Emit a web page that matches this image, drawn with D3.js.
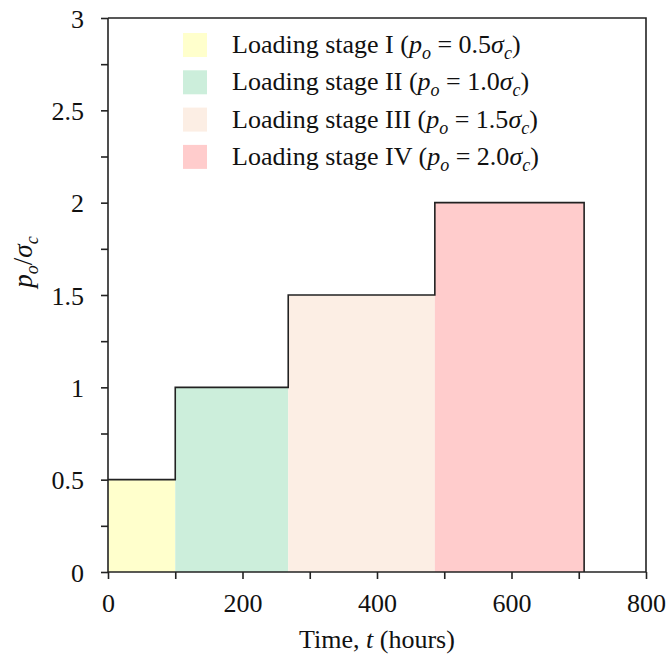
<!DOCTYPE html>
<html>
<head>
<meta charset="utf-8">
<script src="https://cdn.jsdelivr.net/npm/d3@7"></script>
<style>
  body { margin: 0; background: #fff; }
</style>
</head>
<body>
<svg id="chart" width="668" height="657"></svg>
<script>
// stage data
const stageNames = ['I', 'II', 'III', 'IV'];
const stageLevels = [0.5, 1.0, 1.5, 2.0];
const stageStarts = [0, 100, 268, 486];
const stageEnds = [100, 268, 486, 708];
const stageColors = ['#FFFFCC', '#CCEEDB', '#FCEEE4', '#FFCCCC'];
const xTicks = [0, 200, 400, 600, 800];
const yTicks = [0, 0.5, 1, 1.5, 2, 2.5, 3];

const FONT = '"Liberation Serif", "Times New Roman", serif';
const svg = d3.select('#chart');
const margin = { left: 108, right: 22, top: 18, bottom: 85 };
const width = 668, height = 657;

const x = d3.scaleLinear().domain([0, 800]).range([margin.left, width - margin.right]);
const y = d3.scaleLinear().domain([0, 3]).range([height - margin.bottom, margin.top]);

const stages = stageNames.map((n, i) => ({
  name: n, level: stageLevels[i], start: stageStarts[i], end: stageEnds[i], color: stageColors[i]
}));

// filled blocks
svg.append('g').selectAll('rect')
  .data(stages)
  .enter()
  .append('rect')
  .attr('x', d => x(d.start))
  .attr('y', d => y(d.level))
  .attr('width', d => x(d.end) - x(d.start))
  .attr('height', d => y(0) - y(d.level))
  .attr('fill', d => d.color);

// step outline
const pts = [];
stages.forEach(d => {
  pts.push([d.start, d.level]);
  pts.push([d.end, d.level]);
});
pts.push([stages[stages.length - 1].end, 0]);
svg.append('path')
  .attr('d', d3.line().x(d => x(d[0])).y(d => y(d[1]))(pts))
  .attr('fill', 'none')
  .attr('stroke', '#222')
  .attr('stroke-width', 1.6);

// frame (top + right)
svg.append('path')
  .attr('d', `M${x(0)},${y(3)}H${x(800)}V${y(0)}`)
  .attr('fill', 'none')
  .attr('stroke', '#222')
  .attr('stroke-width', 1.6);

// x axis
const xAxis = svg.append('g')
  .attr('transform', `translate(0,${y(0)})`)
  .call(d3.axisBottom(x).tickValues(d3.range(0, 801, 100)).tickSize(7).tickFormat(d => xTicks.includes(d) ? d : ''))
  .call(g => g.select('.domain').attr('stroke', '#222').attr('stroke-width', 1.6).attr('d', `M${x(0)},0H${x(800)}`))
  .call(g => g.selectAll('line').attr('stroke', '#222').attr('stroke-width', 1.6));
xAxis.selectAll('text')
  .attr('dy', 0)
  .attr('y', 40)
  .style('font-size', '26px')
  .style('font-family', FONT)
  .attr('fill', '#111');

// y axis
const yAxis = svg.append('g')
  .attr('transform', `translate(${x(0)},0)`)
  .call(d3.axisLeft(y).tickValues(d3.range(0, 3.01, 0.25)).tickSize(7).tickFormat(d => yTicks.includes(d) ? d : ''))
  .call(g => g.select('.domain').attr('stroke', '#222').attr('stroke-width', 1.6).attr('d', `M0,${y(3)}V${y(0)}`))
  .call(g => g.selectAll('line').attr('stroke', '#222').attr('stroke-width', 1.6));
yAxis.selectAll('text')
  .attr('x', -24)
  .attr('dy', '0.35em')
  .style('font-size', '26px')
  .style('font-family', FONT)
  .attr('fill', '#111');

// axis titles
const xt = svg.append('text')
  .attr('x', (x(0) + x(800)) / 2)
  .attr('y', 648)
  .attr('text-anchor', 'middle')
  .attr('fill', '#111')
  .style('font-family', FONT)
  .style('font-size', '26px');
xt.append('tspan').text('Time, ');
xt.append('tspan').attr('font-style', 'italic').text('t');
xt.append('tspan').text(' (hours)');

const yt = svg.append('text')
  .attr('transform', 'translate(32,262) rotate(-90)')
  .attr('text-anchor', 'middle')
  .attr('fill', '#111')
  .style('font-family', FONT)
  .style('font-size', '27px');
yt.append('tspan').attr('font-style', 'italic').text('p');
yt.append('tspan').attr('font-style', 'italic').attr('font-size', '18px').attr('dy', 6).text('o');
yt.append('tspan').attr('dy', -6).text('/');
yt.append('tspan').attr('font-style', 'italic').text('σ');
yt.append('tspan').attr('font-style', 'italic').attr('font-size', '18px').attr('dy', 6).text('c');

// legend
const legend = svg.append('g').attr('transform', 'translate(183,33)');
const rows = legend.selectAll('g')
  .data(stages)
  .enter()
  .append('g')
  .attr('transform', (d, i) => `translate(0,${i * 37.3})`);
rows.append('rect')
  .attr('width', 24)
  .attr('height', 24)
  .attr('fill', d => d.color);
const lt = rows.append('text')
  .attr('x', 49)
  .attr('y', 20)
  .attr('fill', '#111')
  .style('font-family', FONT)
  .style('font-size', '26px');
lt.append('tspan').text(d => `Loading stage ${d.name} (`);
lt.append('tspan').attr('font-style', 'italic').text('p');
lt.append('tspan').attr('font-style', 'italic').attr('font-size', '18px').attr('dy', 6).text('o');
lt.append('tspan').attr('dy', -6).text(d => ` = ${d.level.toFixed(1)}`);
lt.append('tspan').attr('font-style', 'italic').text('σ');
lt.append('tspan').attr('font-style', 'italic').attr('font-size', '18px').attr('dy', 6).text('c');
lt.append('tspan').attr('dy', -6).text(')');
</script>
</body>
</html>
